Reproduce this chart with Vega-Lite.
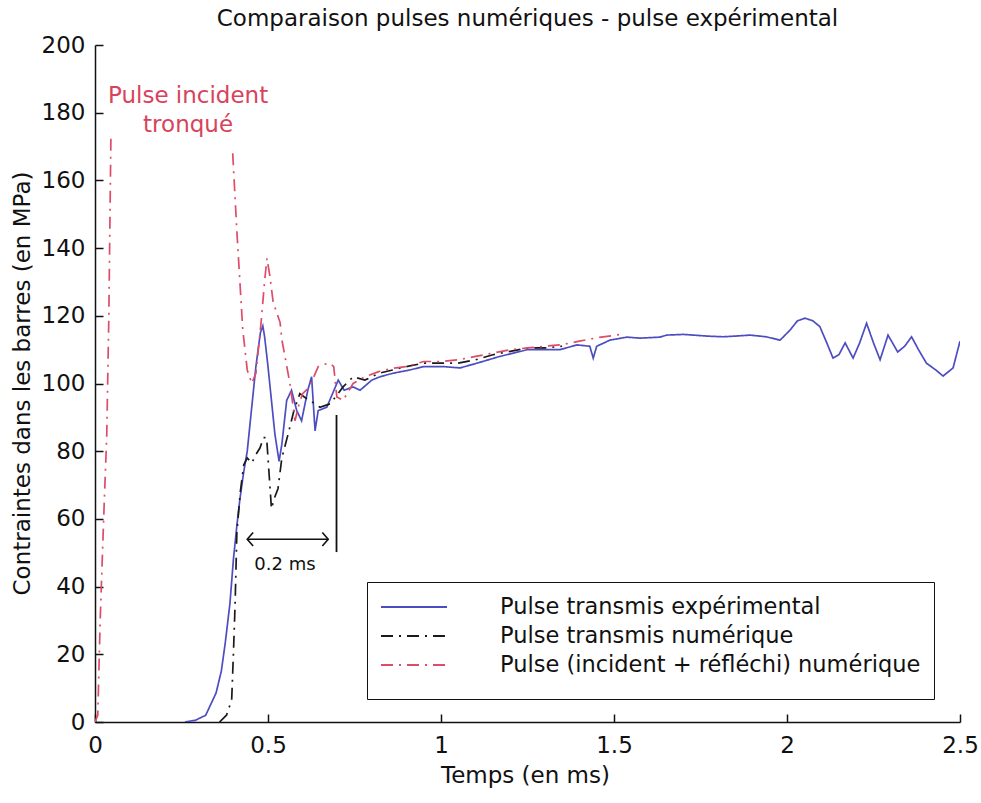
{
  "$schema": "https://vega.github.io/schema/vega-lite/v6.json",
  "autosize": {"type": "none"},
  "width": 865,
  "height": 677,
  "padding": {"left": 95, "top": 45, "right": 21, "bottom": 81},
  "background": "white",
  "title": {
    "text": "Comparaison pulses numériques - pulse expérimental",
    "font": "DejaVu Sans",
    "fontSize": 23,
    "fontWeight": "normal",
    "color": "#111",
    "anchor": "middle",
    "offset": 3
  },
  "config": {
    "view": {"stroke": null},
    "axis": {
      "domainColor": "#111",
      "domainWidth": 1.5,
      "tickColor": "#111",
      "tickWidth": 1.5,
      "tickSize": -8,
      "grid": false,
      "labelFlush": false,
      "labelFont": "DejaVu Sans",
      "labelFontSize": 23,
      "labelColor": "#111",
      "titleFont": "DejaVu Sans",
      "titleFontSize": 23,
      "titleFontWeight": "normal",
      "titleColor": "#111"
    },
    "legend": {
      "labelFont": "DejaVu Sans",
      "labelFontSize": 22.5,
      "labelColor": "#111",
      "labelLimit": 0
    }
  },
  "datasets": {
    "curves": [
      {"s": "Pulse transmis expérimental", "seg": "b", "t": 0.26, "v": 0},
      {"s": "Pulse transmis expérimental", "seg": "b", "t": 0.29, "v": 0.5},
      {"s": "Pulse transmis expérimental", "seg": "b", "t": 0.32, "v": 2},
      {"s": "Pulse transmis expérimental", "seg": "b", "t": 0.35, "v": 8.6},
      {"s": "Pulse transmis expérimental", "seg": "b", "t": 0.365, "v": 15},
      {"s": "Pulse transmis expérimental", "seg": "b", "t": 0.376, "v": 23},
      {"s": "Pulse transmis expérimental", "seg": "b", "t": 0.39, "v": 35},
      {"s": "Pulse transmis expérimental", "seg": "b", "t": 0.4, "v": 48},
      {"s": "Pulse transmis expérimental", "seg": "b", "t": 0.41, "v": 58},
      {"s": "Pulse transmis expérimental", "seg": "b", "t": 0.419, "v": 66},
      {"s": "Pulse transmis expérimental", "seg": "b", "t": 0.43, "v": 74},
      {"s": "Pulse transmis expérimental", "seg": "b", "t": 0.44, "v": 80},
      {"s": "Pulse transmis expérimental", "seg": "b", "t": 0.45, "v": 90},
      {"s": "Pulse transmis expérimental", "seg": "b", "t": 0.465, "v": 105},
      {"s": "Pulse transmis expérimental", "seg": "b", "t": 0.478, "v": 115},
      {"s": "Pulse transmis expérimental", "seg": "b", "t": 0.485, "v": 117},
      {"s": "Pulse transmis expérimental", "seg": "b", "t": 0.49, "v": 114},
      {"s": "Pulse transmis expérimental", "seg": "b", "t": 0.5, "v": 105},
      {"s": "Pulse transmis expérimental", "seg": "b", "t": 0.51, "v": 95},
      {"s": "Pulse transmis expérimental", "seg": "b", "t": 0.52, "v": 85},
      {"s": "Pulse transmis expérimental", "seg": "b", "t": 0.532, "v": 77},
      {"s": "Pulse transmis expérimental", "seg": "b", "t": 0.54, "v": 82},
      {"s": "Pulse transmis expérimental", "seg": "b", "t": 0.554, "v": 95},
      {"s": "Pulse transmis expérimental", "seg": "b", "t": 0.568, "v": 98},
      {"s": "Pulse transmis expérimental", "seg": "b", "t": 0.583, "v": 92},
      {"s": "Pulse transmis expérimental", "seg": "b", "t": 0.597, "v": 89},
      {"s": "Pulse transmis expérimental", "seg": "b", "t": 0.615, "v": 98},
      {"s": "Pulse transmis expérimental", "seg": "b", "t": 0.626, "v": 102},
      {"s": "Pulse transmis expérimental", "seg": "b", "t": 0.636, "v": 86},
      {"s": "Pulse transmis expérimental", "seg": "b", "t": 0.645, "v": 92},
      {"s": "Pulse transmis expérimental", "seg": "b", "t": 0.67, "v": 93},
      {"s": "Pulse transmis expérimental", "seg": "b", "t": 0.703, "v": 101},
      {"s": "Pulse transmis expérimental", "seg": "b", "t": 0.72, "v": 98},
      {"s": "Pulse transmis expérimental", "seg": "b", "t": 0.746, "v": 99},
      {"s": "Pulse transmis expérimental", "seg": "b", "t": 0.766, "v": 98},
      {"s": "Pulse transmis expérimental", "seg": "b", "t": 0.8, "v": 101},
      {"s": "Pulse transmis expérimental", "seg": "b", "t": 0.824, "v": 102},
      {"s": "Pulse transmis expérimental", "seg": "b", "t": 0.86, "v": 103},
      {"s": "Pulse transmis expérimental", "seg": "b", "t": 0.91, "v": 104},
      {"s": "Pulse transmis expérimental", "seg": "b", "t": 0.95, "v": 105},
      {"s": "Pulse transmis expérimental", "seg": "b", "t": 1.006, "v": 105},
      {"s": "Pulse transmis expérimental", "seg": "b", "t": 1.055, "v": 104.6},
      {"s": "Pulse transmis expérimental", "seg": "b", "t": 1.104, "v": 106},
      {"s": "Pulse transmis expérimental", "seg": "b", "t": 1.17, "v": 108},
      {"s": "Pulse transmis expérimental", "seg": "b", "t": 1.25, "v": 110},
      {"s": "Pulse transmis expérimental", "seg": "b", "t": 1.3, "v": 110},
      {"s": "Pulse transmis expérimental", "seg": "b", "t": 1.344, "v": 110},
      {"s": "Pulse transmis expérimental", "seg": "b", "t": 1.393, "v": 111.4},
      {"s": "Pulse transmis expérimental", "seg": "b", "t": 1.43, "v": 111},
      {"s": "Pulse transmis expérimental", "seg": "b", "t": 1.44, "v": 107.5},
      {"s": "Pulse transmis expérimental", "seg": "b", "t": 1.45, "v": 111},
      {"s": "Pulse transmis expérimental", "seg": "b", "t": 1.488, "v": 112.8},
      {"s": "Pulse transmis expérimental", "seg": "b", "t": 1.537, "v": 113.7},
      {"s": "Pulse transmis expérimental", "seg": "b", "t": 1.575, "v": 113.4},
      {"s": "Pulse transmis expérimental", "seg": "b", "t": 1.633, "v": 113.7},
      {"s": "Pulse transmis expérimental", "seg": "b", "t": 1.652, "v": 114.3},
      {"s": "Pulse transmis expérimental", "seg": "b", "t": 1.7, "v": 114.5},
      {"s": "Pulse transmis expérimental", "seg": "b", "t": 1.729, "v": 114.3},
      {"s": "Pulse transmis expérimental", "seg": "b", "t": 1.77, "v": 114},
      {"s": "Pulse transmis expérimental", "seg": "b", "t": 1.815, "v": 113.8},
      {"s": "Pulse transmis expérimental", "seg": "b", "t": 1.85, "v": 114},
      {"s": "Pulse transmis expérimental", "seg": "b", "t": 1.893, "v": 114.3},
      {"s": "Pulse transmis expérimental", "seg": "b", "t": 1.94, "v": 113.8},
      {"s": "Pulse transmis expérimental", "seg": "b", "t": 1.98, "v": 112.8},
      {"s": "Pulse transmis expérimental", "seg": "b", "t": 2.009, "v": 115.8},
      {"s": "Pulse transmis expérimental", "seg": "b", "t": 2.03, "v": 118.5},
      {"s": "Pulse transmis expérimental", "seg": "b", "t": 2.052, "v": 119.3},
      {"s": "Pulse transmis expérimental", "seg": "b", "t": 2.075, "v": 118.5},
      {"s": "Pulse transmis expérimental", "seg": "b", "t": 2.095, "v": 116.8},
      {"s": "Pulse transmis expérimental", "seg": "b", "t": 2.115, "v": 112},
      {"s": "Pulse transmis expérimental", "seg": "b", "t": 2.133, "v": 107.5},
      {"s": "Pulse transmis expérimental", "seg": "b", "t": 2.15, "v": 108.5},
      {"s": "Pulse transmis expérimental", "seg": "b", "t": 2.168, "v": 112},
      {"s": "Pulse transmis expérimental", "seg": "b", "t": 2.191, "v": 107.5},
      {"s": "Pulse transmis expérimental", "seg": "b", "t": 2.21, "v": 112},
      {"s": "Pulse transmis expérimental", "seg": "b", "t": 2.23, "v": 117.8},
      {"s": "Pulse transmis expérimental", "seg": "b", "t": 2.25, "v": 112},
      {"s": "Pulse transmis expérimental", "seg": "b", "t": 2.269, "v": 107},
      {"s": "Pulse transmis expérimental", "seg": "b", "t": 2.292, "v": 114.3},
      {"s": "Pulse transmis expérimental", "seg": "b", "t": 2.32, "v": 109.3},
      {"s": "Pulse transmis expérimental", "seg": "b", "t": 2.34, "v": 111},
      {"s": "Pulse transmis expérimental", "seg": "b", "t": 2.36, "v": 113.8},
      {"s": "Pulse transmis expérimental", "seg": "b", "t": 2.38, "v": 110},
      {"s": "Pulse transmis expérimental", "seg": "b", "t": 2.403, "v": 106},
      {"s": "Pulse transmis expérimental", "seg": "b", "t": 2.43, "v": 104},
      {"s": "Pulse transmis expérimental", "seg": "b", "t": 2.451, "v": 102.2},
      {"s": "Pulse transmis expérimental", "seg": "b", "t": 2.48, "v": 104.6},
      {"s": "Pulse transmis expérimental", "seg": "b", "t": 2.5, "v": 112.5},

      {"s": "Pulse transmis numérique", "seg": "k", "t": 0.36, "v": 0},
      {"s": "Pulse transmis numérique", "seg": "k", "t": 0.38, "v": 2},
      {"s": "Pulse transmis numérique", "seg": "k", "t": 0.395, "v": 6.5},
      {"s": "Pulse transmis numérique", "seg": "k", "t": 0.4, "v": 20},
      {"s": "Pulse transmis numérique", "seg": "k", "t": 0.405, "v": 35},
      {"s": "Pulse transmis numérique", "seg": "k", "t": 0.41, "v": 56},
      {"s": "Pulse transmis numérique", "seg": "k", "t": 0.42, "v": 68},
      {"s": "Pulse transmis numérique", "seg": "k", "t": 0.43, "v": 76},
      {"s": "Pulse transmis numérique", "seg": "k", "t": 0.44, "v": 78},
      {"s": "Pulse transmis numérique", "seg": "k", "t": 0.453, "v": 76.5},
      {"s": "Pulse transmis numérique", "seg": "k", "t": 0.465, "v": 79},
      {"s": "Pulse transmis numérique", "seg": "k", "t": 0.477, "v": 81},
      {"s": "Pulse transmis numérique", "seg": "k", "t": 0.487, "v": 84},
      {"s": "Pulse transmis numérique", "seg": "k", "t": 0.496, "v": 84},
      {"s": "Pulse transmis numérique", "seg": "k", "t": 0.502, "v": 75},
      {"s": "Pulse transmis numérique", "seg": "k", "t": 0.51, "v": 63},
      {"s": "Pulse transmis numérique", "seg": "k", "t": 0.518, "v": 66},
      {"s": "Pulse transmis numérique", "seg": "k", "t": 0.529, "v": 69},
      {"s": "Pulse transmis numérique", "seg": "k", "t": 0.54, "v": 78},
      {"s": "Pulse transmis numérique", "seg": "k", "t": 0.558, "v": 85},
      {"s": "Pulse transmis numérique", "seg": "k", "t": 0.575, "v": 92},
      {"s": "Pulse transmis numérique", "seg": "k", "t": 0.592, "v": 97},
      {"s": "Pulse transmis numérique", "seg": "k", "t": 0.605, "v": 96},
      {"s": "Pulse transmis numérique", "seg": "k", "t": 0.621, "v": 95},
      {"s": "Pulse transmis numérique", "seg": "k", "t": 0.65, "v": 93},
      {"s": "Pulse transmis numérique", "seg": "k", "t": 0.68, "v": 94},
      {"s": "Pulse transmis numérique", "seg": "k", "t": 0.717, "v": 99},
      {"s": "Pulse transmis numérique", "seg": "k", "t": 0.746, "v": 102},
      {"s": "Pulse transmis numérique", "seg": "k", "t": 0.78, "v": 101},
      {"s": "Pulse transmis numérique", "seg": "k", "t": 0.82, "v": 103},
      {"s": "Pulse transmis numérique", "seg": "k", "t": 0.86, "v": 104},
      {"s": "Pulse transmis numérique", "seg": "k", "t": 0.9, "v": 105},
      {"s": "Pulse transmis numérique", "seg": "k", "t": 0.95, "v": 106},
      {"s": "Pulse transmis numérique", "seg": "k", "t": 1.0, "v": 106},
      {"s": "Pulse transmis numérique", "seg": "k", "t": 1.05, "v": 106},
      {"s": "Pulse transmis numérique", "seg": "k", "t": 1.1, "v": 107},
      {"s": "Pulse transmis numérique", "seg": "k", "t": 1.15, "v": 108.5},
      {"s": "Pulse transmis numérique", "seg": "k", "t": 1.2, "v": 109.5},
      {"s": "Pulse transmis numérique", "seg": "k", "t": 1.25, "v": 110.5},
      {"s": "Pulse transmis numérique", "seg": "k", "t": 1.3, "v": 110.5},
      {"s": "Pulse transmis numérique", "seg": "k", "t": 1.35, "v": 111},

      {"s": "Pulse (incident + réfléchi) numérique", "seg": "r1", "t": 0.0, "v": 0},
      {"s": "Pulse (incident + réfléchi) numérique", "seg": "r1", "t": 0.008, "v": 2},
      {"s": "Pulse (incident + réfléchi) numérique", "seg": "r1", "t": 0.015, "v": 30},
      {"s": "Pulse (incident + réfléchi) numérique", "seg": "r1", "t": 0.025, "v": 60},
      {"s": "Pulse (incident + réfléchi) numérique", "seg": "r1", "t": 0.034, "v": 85},
      {"s": "Pulse (incident + réfléchi) numérique", "seg": "r1", "t": 0.04, "v": 120},
      {"s": "Pulse (incident + réfléchi) numérique", "seg": "r1", "t": 0.046, "v": 173},
      {"s": "Pulse (incident + réfléchi) numérique", "seg": "r2", "t": 0.398, "v": 168},
      {"s": "Pulse (incident + réfléchi) numérique", "seg": "r2", "t": 0.41, "v": 145},
      {"s": "Pulse (incident + réfléchi) numérique", "seg": "r2", "t": 0.427, "v": 116},
      {"s": "Pulse (incident + réfléchi) numérique", "seg": "r2", "t": 0.44, "v": 104},
      {"s": "Pulse (incident + réfléchi) numérique", "seg": "r2", "t": 0.453, "v": 100},
      {"s": "Pulse (incident + réfléchi) numérique", "seg": "r2", "t": 0.465, "v": 103},
      {"s": "Pulse (incident + réfléchi) numérique", "seg": "r2", "t": 0.48, "v": 118},
      {"s": "Pulse (incident + réfléchi) numérique", "seg": "r2", "t": 0.49, "v": 130},
      {"s": "Pulse (incident + réfléchi) numérique", "seg": "r2", "t": 0.497, "v": 137},
      {"s": "Pulse (incident + réfléchi) numérique", "seg": "r2", "t": 0.505, "v": 132},
      {"s": "Pulse (incident + réfléchi) numérique", "seg": "r2", "t": 0.515, "v": 124},
      {"s": "Pulse (incident + réfléchi) numérique", "seg": "r2", "t": 0.535, "v": 118},
      {"s": "Pulse (incident + réfléchi) numérique", "seg": "r2", "t": 0.54, "v": 113},
      {"s": "Pulse (incident + réfléchi) numérique", "seg": "r2", "t": 0.558, "v": 103},
      {"s": "Pulse (incident + réfléchi) numérique", "seg": "r2", "t": 0.565, "v": 99},
      {"s": "Pulse (incident + réfléchi) numérique", "seg": "r2", "t": 0.578, "v": 89},
      {"s": "Pulse (incident + réfléchi) numérique", "seg": "r2", "t": 0.59, "v": 94},
      {"s": "Pulse (incident + réfléchi) numérique", "seg": "r2", "t": 0.6, "v": 97},
      {"s": "Pulse (incident + réfléchi) numérique", "seg": "r2", "t": 0.62, "v": 99},
      {"s": "Pulse (incident + réfléchi) numérique", "seg": "r2", "t": 0.645, "v": 105},
      {"s": "Pulse (incident + réfléchi) numérique", "seg": "r2", "t": 0.655, "v": 105.5},
      {"s": "Pulse (incident + réfléchi) numérique", "seg": "r2", "t": 0.679, "v": 106},
      {"s": "Pulse (incident + réfléchi) numérique", "seg": "r2", "t": 0.69, "v": 105},
      {"s": "Pulse (incident + réfléchi) numérique", "seg": "r2", "t": 0.699, "v": 96},
      {"s": "Pulse (incident + réfléchi) numérique", "seg": "r2", "t": 0.717, "v": 95},
      {"s": "Pulse (incident + réfléchi) numérique", "seg": "r2", "t": 0.746, "v": 100},
      {"s": "Pulse (incident + réfléchi) numérique", "seg": "r2", "t": 0.78, "v": 102},
      {"s": "Pulse (incident + réfléchi) numérique", "seg": "r2", "t": 0.82, "v": 103.5},
      {"s": "Pulse (incident + réfléchi) numérique", "seg": "r2", "t": 0.86, "v": 104.5},
      {"s": "Pulse (incident + réfléchi) numérique", "seg": "r2", "t": 0.9, "v": 105},
      {"s": "Pulse (incident + réfléchi) numérique", "seg": "r2", "t": 0.95, "v": 106.5},
      {"s": "Pulse (incident + réfléchi) numérique", "seg": "r2", "t": 1.0, "v": 106.5},
      {"s": "Pulse (incident + réfléchi) numérique", "seg": "r2", "t": 1.05, "v": 107},
      {"s": "Pulse (incident + réfléchi) numérique", "seg": "r2", "t": 1.1, "v": 108},
      {"s": "Pulse (incident + réfléchi) numérique", "seg": "r2", "t": 1.15, "v": 109},
      {"s": "Pulse (incident + réfléchi) numérique", "seg": "r2", "t": 1.2, "v": 110},
      {"s": "Pulse (incident + réfléchi) numérique", "seg": "r2", "t": 1.25, "v": 110.5},
      {"s": "Pulse (incident + réfléchi) numérique", "seg": "r2", "t": 1.3, "v": 111},
      {"s": "Pulse (incident + réfléchi) numérique", "seg": "r2", "t": 1.35, "v": 111.5},
      {"s": "Pulse (incident + réfléchi) numérique", "seg": "r2", "t": 1.4, "v": 112.5},
      {"s": "Pulse (incident + réfléchi) numérique", "seg": "r2", "t": 1.45, "v": 113.5},
      {"s": "Pulse (incident + réfléchi) numérique", "seg": "r2", "t": 1.52, "v": 114.5}
    ],
    "chevrons": [
      {"g": "L", "o": 1, "t": 0.457, "v": 56},
      {"g": "L", "o": 2, "t": 0.44, "v": 54},
      {"g": "L", "o": 3, "t": 0.457, "v": 52},
      {"g": "R", "o": 1, "t": 0.657, "v": 56},
      {"g": "R", "o": 2, "t": 0.674, "v": 54},
      {"g": "R", "o": 3, "t": 0.657, "v": 52}
    ]
  },
  "layer": [
    {
      "data": {"name": "curves"},
      "mark": {"type": "line", "strokeWidth": 1.7, "clip": true},
      "encoding": {
        "x": {
          "field": "t", "type": "quantitative",
          "scale": {"domain": [0, 2.5], "nice": false, "zero": false},
          "axis": {
            "values": [0, 0.5, 1, 1.5, 2, 2.5],
            "format": "~g",
            "labelPadding": 20,
            "title": "Temps (en ms)",
            "titleX": 430,
            "titleY": 53,
            "titleBaseline": "middle",
            "titleAnchor": "middle"
          }
        },
        "y": {
          "field": "v", "type": "quantitative",
          "scale": {"domain": [0, 200], "nice": false},
          "axis": {
            "values": [0, 20, 40, 60, 80, 100, 120, 140, 160, 180, 200],
            "labelPadding": 18,
            "title": "Contraintes dans les barres (en MPa)",
            "titleX": -73,
            "titleY": 338,
            "titleBaseline": "middle",
            "titleAnchor": "middle"
          }
        },
        "detail": {"field": "seg"},
        "color": {
          "field": "s", "type": "nominal",
          "scale": {
            "domain": ["Pulse transmis expérimental", "Pulse transmis numérique", "Pulse (incident + réfléchi) numérique"],
            "range": ["#4d4dc2", "#1a1a1a", "#de4c68"]
          },
          "legend": {
            "title": " ",
            "titleOrient": "bottom",
            "titleFontSize": 6,
            "titlePadding": 3,
            "orient": "none",
            "legendX": 272,
            "legendY": 537,
            "strokeColor": "#111",
            "fillColor": "white",
            "padding": 13,
            "symbolType": "M-1,0H5",
            "symbolSize": 484,
            "symbolStrokeWidth": 1.8,
            "labelOffset": 96,
            "rowPadding": 5
          }
        },
        "strokeDash": {
          "field": "s", "type": "nominal",
          "scale": {
            "domain": ["Pulse transmis expérimental", "Pulse transmis numérique", "Pulse (incident + réfléchi) numérique"],
            "range": [[1, 0], [12, 6, 2, 6], [12, 6, 2, 6]]
          },
          "legend": {
            "title": " ",
            "titleOrient": "bottom",
            "titleFontSize": 6,
            "titlePadding": 3,
            "orient": "none",
            "legendX": 272,
            "legendY": 537,
            "strokeColor": "#111",
            "fillColor": "white",
            "padding": 13,
            "symbolType": "M-1,0H5",
            "symbolSize": 484,
            "symbolStrokeWidth": 1.8,
            "labelOffset": 96,
            "rowPadding": 5
          }
        }
      }
    },
    {
      "data": {"values": [{"t": 0.698, "v1": 50.2, "v2": 90.7}]},
      "mark": {"type": "rule", "color": "#111", "strokeWidth": 1.8},
      "encoding": {
        "x": {"field": "t", "type": "quantitative"},
        "y": {"field": "v1", "type": "quantitative"},
        "y2": {"field": "v2"}
      }
    },
    {
      "data": {"values": [{"t1": 0.44, "t2": 0.674, "v": 54}]},
      "mark": {"type": "rule", "color": "#111", "strokeWidth": 1.6},
      "encoding": {
        "x": {"field": "t1", "type": "quantitative"},
        "x2": {"field": "t2"},
        "y": {"field": "v", "type": "quantitative"}
      }
    },
    {
      "data": {"name": "chevrons"},
      "mark": {"type": "line", "color": "#111", "strokeWidth": 1.6},
      "encoding": {
        "x": {"field": "t", "type": "quantitative"},
        "y": {"field": "v", "type": "quantitative"},
        "detail": {"field": "g"},
        "order": {"field": "o", "type": "quantitative"}
      }
    },
    {
      "data": {"values": [{"t": 0.549, "v": 46.4, "label": "0.2 ms"}]},
      "mark": {"type": "text", "font": "DejaVu Sans", "fontSize": 18, "color": "#111", "baseline": "middle", "align": "center"},
      "encoding": {
        "x": {"field": "t", "type": "quantitative"},
        "y": {"field": "v", "type": "quantitative"},
        "text": {"field": "label"}
      }
    },
    {
      "data": {"values": [
        {"t": 0.269, "v": 185, "label": "Pulse incident"},
        {"t": 0.269, "v": 176.4, "label": "tronqué"}
      ]},
      "mark": {"type": "text", "font": "DejaVu Sans", "fontSize": 23, "color": "#d8435c", "baseline": "middle", "align": "center"},
      "encoding": {
        "x": {"field": "t", "type": "quantitative"},
        "y": {"field": "v", "type": "quantitative"},
        "text": {"field": "label"}
      }
    }
  ]
}
